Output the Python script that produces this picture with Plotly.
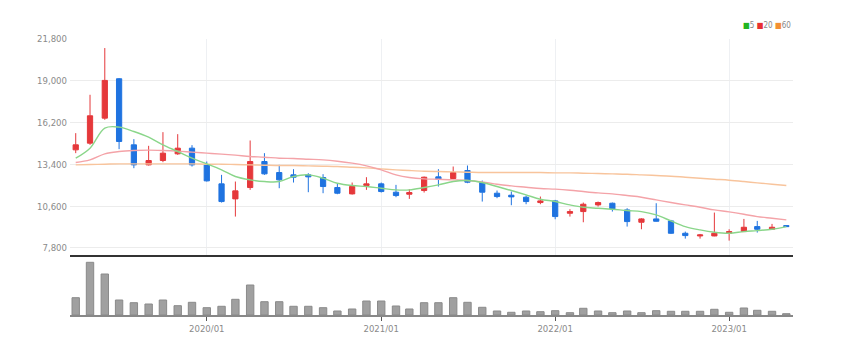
import pandas as pd
import plotly.graph_objects as go
from plotly.subplots import make_subplots

dates = pd.date_range("2019-04-01", periods=50, freq="MS")

opens = [14375, 14822, 16499, 19137, 14710, 13369, 13660, 14107, 14487, 13369,
         12095, 11089, 11849, 13593, 12855, 12699, 12699, 12520, 11849, 11424,
         11983, 12095, 11536, 11402, 11648, 12565, 12453, 12989, 12184, 11469,
         11335, 11201, 10843, 10955, 10127, 10239, 10686, 10798, 10351, 9524,
         9747, 9613, 8786, 8607, 8607, 8786, 8898, 9233, 9054, 9300]
highs = [15493, 18064, 21194, 19182, 15091, 14644, 15560, 15426, 14688, 13593,
         12699, 12251, 15001, 14152, 13369, 13078, 12810, 12743, 12140, 12184,
         12542, 12184, 12028, 11737, 12587, 13078, 13257, 13325, 12318, 11648,
         11581, 11312, 11245, 11022, 10396, 10843, 10910, 10843, 10463, 9792,
         10798, 9680, 8898, 8741, 10172, 9054, 9747, 9613, 9412, 9300]
lows = [14152, 14710, 16387, 14420, 13145, 13325, 13548, 14040, 13257, 12251,
        10843, 9904, 11693, 12699, 11804, 12184, 11536, 11469, 11402, 11380,
        11693, 11514, 11201, 11089, 11514, 11916, 12408, 12140, 10910, 11134,
        10664, 10731, 10731, 9725, 9904, 9524, 10575, 10239, 9233, 9054,
        9568, 8741, 8428, 8428, 8585, 8294, 8875, 8831, 9009, 9233]
closes = [14711, 16656, 19026, 14934, 13369, 13660, 14152, 14487, 13369, 12296,
          10910, 11626, 13593, 12766, 12363, 12542, 12565, 11916, 11469, 11916,
          12095, 11581, 11312, 11514, 12542, 12408, 12855, 12207, 11536, 11245,
          11223, 10910, 10955, 9904, 10239, 10731, 10843, 10418, 9568, 9747,
          9591, 8786, 8630, 8674, 8786, 8898, 9189, 9054, 9189, 9233]

ma5 = [13816, 14487, 15828, 15896, 15605, 15225, 14710, 14263, 13816, 13436,
       13034, 12587, 12363, 12251, 12251, 12587, 12699, 12475, 12140, 11983,
       11916, 11804, 11693, 11693, 11849, 12028, 12251, 12318, 12184, 11916,
       11648, 11357, 11067, 10910, 10686, 10530, 10463, 10396, 10306, 10239,
       10016, 9613, 9233, 9009, 8853, 8786, 8898, 8965, 9054, 9233]
ma20 = [13526, 13705, 14107, 14263, 14331, 14353, 14331, 14286, 14219, 14152,
        14085, 14018, 13928, 13883, 13816, 13794, 13749, 13705, 13615, 13481,
        13302, 13034, 12699, 12520, 12430, 12408, 12363, 12318, 12229, 12073,
        11961, 11871, 11780, 11740, 11670, 11581, 11491, 11424, 11312, 11201,
        11022, 10843, 10686, 10530, 10351, 10217, 10060, 9904, 9792, 9680]
ma60 = [13369, 13392, 13414, 13436, 13436, 13436, 13436, 13436, 13436, 13414,
        13414, 13392, 13369, 13347, 13325, 13325, 13302, 13280, 13257, 13213,
        13168, 13101, 13034, 12989, 12945, 12922, 12900, 12878, 12855, 12855,
        12855, 12855, 12855, 12833, 12833, 12810, 12788, 12766, 12743, 12699,
        12654, 12609, 12542, 12475, 12408, 12341, 12251, 12162, 12073, 11983]

volume = [17300, 52700, 41000, 15000, 12300, 11000, 15000, 9300, 12700, 7300,
          8700, 15700, 30000, 13300, 13300, 8700, 8700, 7300, 4000, 6000,
          14000, 14000, 9000, 6000, 12300, 12300, 17300, 12700, 7700, 4000,
          2700, 4000, 3300, 4300, 2300, 6700, 4000, 2300, 4000, 2300,
          4300, 3700, 3700, 3700, 5700, 2700, 7000, 4700, 3700, 1300]

price_ticks = [7800, 10600, 13400, 16200, 19000, 21800]
year_ticks = ["2020-01-01", "2021-01-01", "2022-01-01", "2023-01-01"]
year_labels = ["2020/01", "2021/01", "2022/01", "2023/01"]

FONT = "Liberation Sans Narrow, Arial Narrow, DejaVu Sans Condensed, sans-serif"
RED = "#e5383b"
BLUE = "#1f73e0"

fig = make_subplots(rows=2, cols=1, shared_xaxes=True, vertical_spacing=0.0)

fig.add_trace(go.Candlestick(
    x=dates, open=opens, high=highs, low=lows, close=closes,
    increasing=dict(line=dict(color=RED, width=1), fillcolor=RED),
    decreasing=dict(line=dict(color=BLUE, width=1), fillcolor=BLUE),
    hoverinfo="skip", showlegend=False), row=1, col=1)

for vals, col in [(ma60, "#f8c49c"), (ma20, "#f4a3a8"), (ma5, "#8ad68a")]:
    fig.add_trace(go.Scatter(x=dates, y=vals, mode="lines",
                             line=dict(color=col, width=1.4, shape="spline"),
                             hoverinfo="skip", showlegend=False), row=1, col=1)

fig.add_trace(go.Bar(x=dates, y=volume, width=15.5 * 86400000,
                     marker=dict(color="#a0a0a0", line=dict(color="#8a8a8a", width=1)),
                     hoverinfo="skip", showlegend=False), row=2, col=1)

xrange = ["2019-03-20", "2023-05-15"]

fig.update_layout(
    width=841, height=354,
    margin=dict(l=70, r=48, t=39, b=39),
    paper_bgcolor="white", plot_bgcolor="white",
    boxgap=0.44,
    font=dict(family=FONT, size=9.5, color="#8a8a8a"),
    xaxis=dict(type="date", range=xrange, rangeslider=dict(visible=False),
               tickvals=year_ticks, showticklabels=False, ticks="",
               showgrid=True, gridcolor="#eef0f3", gridwidth=1,
               showline=True, linecolor="#333333", linewidth=2, zeroline=False),
    yaxis=dict(domain=[0.2174, 1.0], range=[7330, 21800],
               tickvals=price_ticks, tickformat=",", ticks="",
               showgrid=True, gridcolor="#ececec", gridwidth=1,
               zeroline=False, showline=False, ticklabelstandoff=2),
    xaxis2=dict(type="date", range=xrange, tickvals=year_ticks, ticktext=year_labels,
                ticks="outside", ticklen=4, tickcolor="#555555",
                showgrid=False, showline=True, linecolor="#888888", linewidth=2,
                zeroline=False),
    yaxis2=dict(domain=[0.0, 0.2065], range=[0, 57000], showticklabels=False,
                showgrid=False, zeroline=False, showline=False, ticks=""),
)

legend_text = ("<span style='color:#22b522'>■</span>5 "
               "<span style='color:#e83030'>■</span>20 "
               "<span style='color:#f39033'>■</span>60")
fig.add_annotation(xref="paper", yref="paper", x=1.0, y=1.0507,
                   xanchor="right", yanchor="middle", showarrow=False,
                   text=legend_text, font=dict(family=FONT, size=8, color="#888888"))

fig.write_html("out.html")
